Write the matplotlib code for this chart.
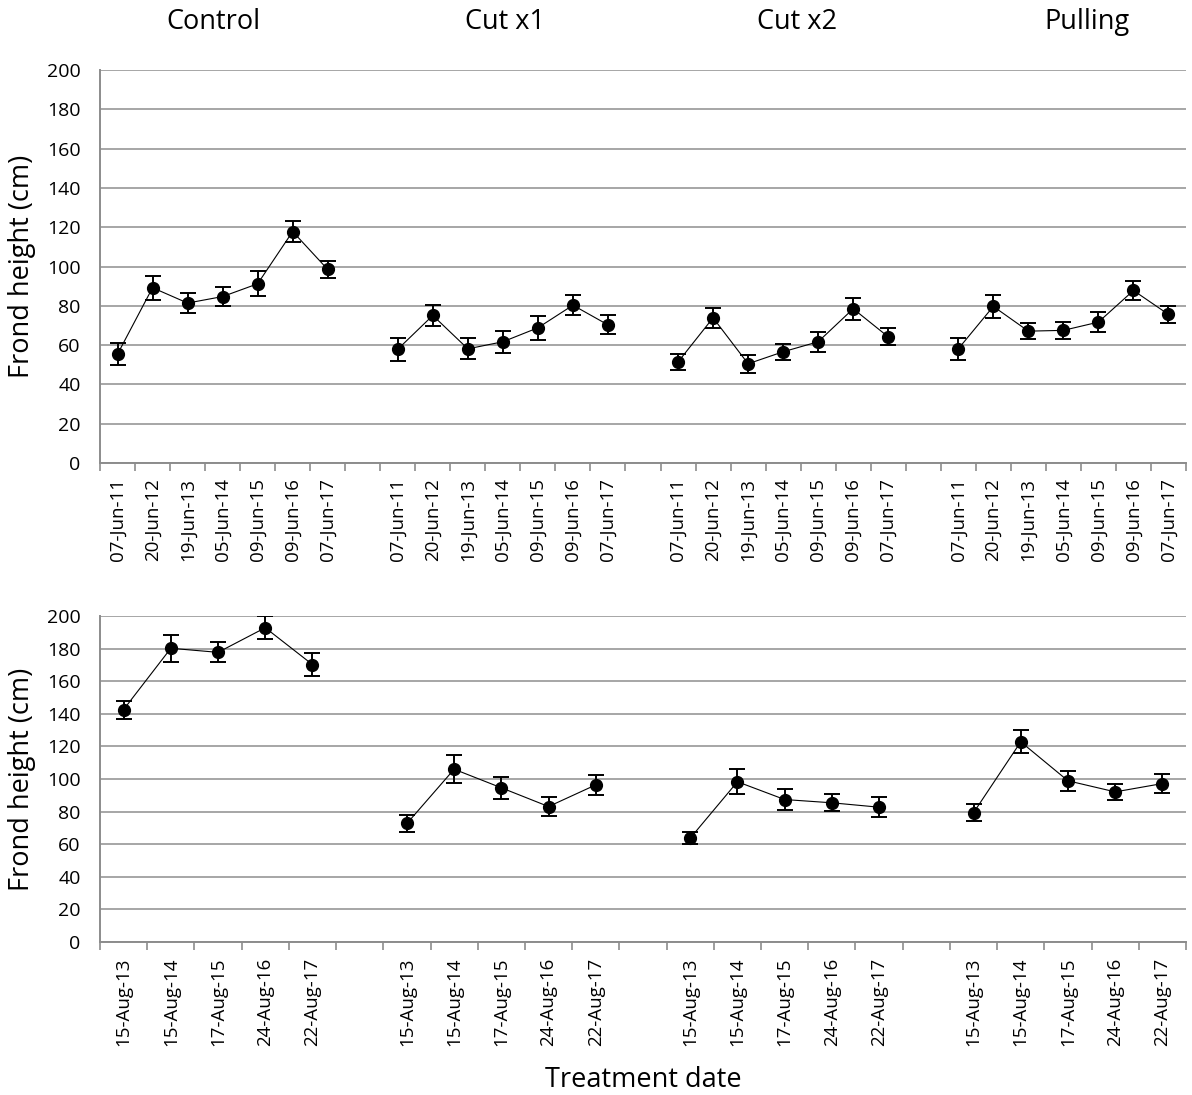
import matplotlib.pyplot as plt
import numpy as np

plt.rcParams['font.family'] = ['Open Sans', 'DejaVu Sans']

treatments = ["Control", "Cut x1", "Cut x2", "Pulling"]

# top panel: June sampling
jun_dates = ["07-Jun-11", "20-Jun-12", "19-Jun-13", "05-Jun-14", "09-Jun-15", "09-Jun-16", "07-Jun-17"]
jun_mean = {
    "Control": [55.4, 89.2, 81.4, 84.7, 91.2, 117.8, 98.5],
    "Cut x1": [57.9, 75.1, 58.1, 61.7, 68.8, 80.3, 70.3],
    "Cut x2": [51.4, 73.9, 50.5, 56.6, 61.7, 78.5, 64.2],
    "Pulling": [58.1, 79.7, 67.1, 67.5, 71.7, 87.8, 75.6],
}
jun_err = {
    "Control": [5.6, 6.0, 5.0, 5.0, 6.3, 5.2, 4.5],
    "Cut x1": [5.8, 5.4, 5.3, 5.5, 6.0, 5.2, 4.9],
    "Cut x2": [4.0, 5.2, 4.5, 4.2, 5.2, 5.6, 4.3],
    "Pulling": [5.6, 5.8, 3.9, 4.2, 5.2, 5.0, 4.5],
}

# bottom panel: August sampling
aug_dates = ["15-Aug-13", "15-Aug-14", "17-Aug-15", "24-Aug-16", "22-Aug-17"]
aug_mean = {
    "Control": [142.6, 180.2, 177.7, 192.8, 170.2],
    "Cut x1": [72.7, 106.0, 94.6, 83.1, 96.4],
    "Cut x2": [63.7, 98.3, 87.4, 85.4, 82.7],
    "Pulling": [79.3, 122.8, 98.9, 92.1, 97.2],
}
aug_err = {
    "Control": [5.5, 8.3, 6.1, 7.0, 7.0],
    "Cut x1": [5.1, 8.6, 6.6, 5.8, 6.3],
    "Cut x2": [3.7, 7.8, 6.3, 5.3, 6.3],
    "Pulling": [5.2, 7.0, 6.0, 5.0, 5.8],
}

grid_col = "#a6a6a6"
axis_col = "#8c8c8c"

fig = plt.figure(figsize=(11.92, 10.95), dpi=100)
ax1 = fig.add_axes([100/1192, 1 - 463/1095, 1086/1192, 393/1095])
ax2 = fig.add_axes([100/1192, 1 - 942/1095, 1086/1192, 326/1095])


def panel(ax, dates, means, errs):
    n = len(dates)
    nslots = n * len(treatments) + len(treatments) - 1
    labels_pos = []
    labels = []
    for k, t in enumerate(treatments):
        x = np.arange(n) + k * (n + 1) + 0.5
        ax.errorbar(x, means[t], yerr=errs[t], color="black", lw=0.8,
                    marker="o", ms=8.5, elinewidth=1.4, capsize=5.5,
                    capthick=1.4, zorder=3)
        labels_pos.extend(x)
        labels.extend(dates)
    ax.set_xlim(0, nslots)
    ax.set_ylim(0, 200)
    ax.set_yticks(range(0, 201, 20))
    ax.yaxis.grid(True, color=grid_col, lw=1.4)
    ax.set_axisbelow(True)
    ax.set_xticks(labels_pos)
    ax.set_xticklabels(labels, rotation=90, fontsize=13.5)
    ax.set_xticks(np.arange(nslots + 1), minor=True)
    ax.tick_params(axis="x", which="major", length=0, pad=11)
    ax.tick_params(axis="x", which="minor", length=6, color=axis_col, width=1.2)
    ax.tick_params(axis="y", length=0, labelsize=14, pad=14)
    for s in ["top", "right"]:
        ax.spines[s].set_visible(False)
    for s in ["left", "bottom"]:
        ax.spines[s].set_color(axis_col)
        ax.spines[s].set_linewidth(1.4)
    ax.set_ylabel("Frond height (cm)", fontsize=19.5)
    ax.yaxis.set_label_coords(-64 / 1086, 0.5)


panel(ax1, jun_dates, jun_mean, jun_err)
panel(ax2, aug_dates, aug_mean, aug_err)

for name, px in zip(treatments, [213, 505, 797, 1087]):
    fig.text(px / 1192, 1 - 22 / 1095, name, ha="center", va="center", fontsize=19.5)

fig.text(643 / 1192, 1 - 1080 / 1095, "Treatment date", ha="center", va="center", fontsize=19.5)

fig.savefig("out.png", dpi=100)
